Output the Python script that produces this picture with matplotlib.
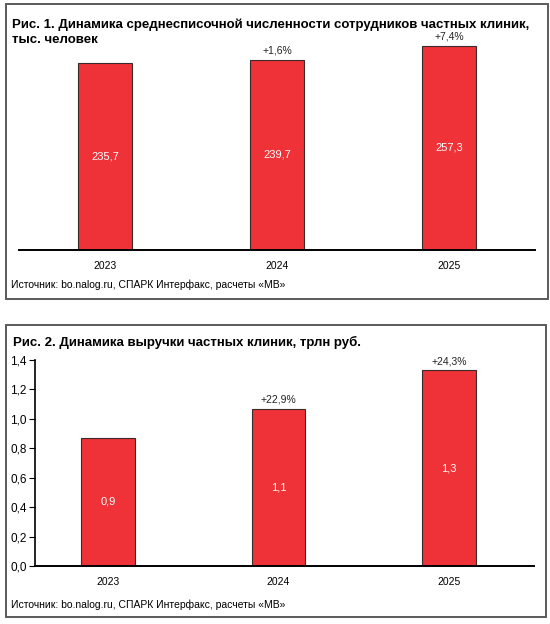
import matplotlib.pyplot as plt
from matplotlib.patches import Rectangle

plt.rcParams['font.family'] = ['Liberation Sans', 'DejaVu Sans']

# data
years = ['2023', '2024', '2025']
staff = [235.7, 239.7, 257.3]
staff_labels = ['235,7', '239,7', '257,3']
staff_growth = ['', '+1,6%', '+7,4%']

revenue = [0.87, 1.07, 1.33]
revenue_labels = ['0,9', '1,1', '1,3']
revenue_growth = ['', '+22,9%', '+24,3%']
revenue_ticks = [0.0, 0.2, 0.4, 0.6, 0.8, 1.0, 1.2, 1.4]

title1 = ['Рис. 1. Динамика среднесписочной численности сотрудников частных клиник,',
          'тыс. человек']
title2 = 'Рис. 2. Динамика выручки частных клиник, трлн руб.'
source = 'Источник: bo.nalog.ru, СПАРК Интерфакс, расчеты «МВ»'

red = '#ee3237'
W, H = 550, 624

fig = plt.figure(figsize=(W / 100, H / 100), dpi=100)


def fx(px):
    return px / W


def fy(py):
    return 1 - py / H


# frames around the two panels
for x0, y0, x1, y1 in [(6, 4, 548, 299), (6, 325, 546, 617)]:
    fig.patches.append(Rectangle((fx(x0), fy(y1)), fx(x1 - x0), (y1 - y0) / H,
                                 transform=fig.transFigure, fill=False,
                                 edgecolor='#5a5a5a', linewidth=1.4))


def draw_bars(ax, values, labels, growth, width):
    x = range(len(values))
    bars = ax.bar(x, values, width=width, color=red, edgecolor='#3a2a2a', linewidth=0.8, zorder=2)
    for b, v, lab, g in zip(bars, values, labels, growth):
        cx = b.get_x() + b.get_width() / 2
        ax.text(cx, v / 2, lab, ha='center', va='center', color='white', fontsize=8)
        if g:
            ax.annotate(g, (cx, v), xytext=(0, 3), textcoords='offset points',
                        ha='center', va='bottom', fontsize=7.5, color='#222222')
    ax.set_xticks(list(x))
    ax.set_xticklabels(years, fontsize=7.5)
    ax.tick_params(axis='x', length=0, pad=8)
    for s in ['top', 'right']:
        ax.spines[s].set_visible(False)
    ax.spines['bottom'].set_linewidth(1.4)


# panel 1
ax1 = fig.add_axes([fx(19), fy(250), fx(535 - 19), (250 - 30) / H])
draw_bars(ax1, staff, staff_labels, staff_growth, 0.31)
ax1.set_xlim(-0.5, 2.5)
ax1.set_ylim(0, 277)
ax1.spines['left'].set_visible(False)
ax1.set_yticks([])

fig.text(fx(12), fy(25), title1[0], fontsize=9.5, fontweight='bold', va='center')
fig.text(fx(12), fy(40), title1[1], fontsize=9.5, fontweight='bold', va='center')
fig.text(fx(11), fy(285), source, fontsize=7.5, va='center')

# panel 2
ax2 = fig.add_axes([fx(35), fy(566), fx(534 - 35), (566 - 360) / H])
draw_bars(ax2, revenue, revenue_labels, revenue_growth, 0.315)
ax2.set_xlim(-0.43, 2.5)
ax2.set_ylim(0, 1.4)
ax2.set_yticks(revenue_ticks)
ax2.set_yticklabels([f'{t:.1f}'.replace('.', ',') for t in revenue_ticks], fontsize=8.5)
ax2.tick_params(axis='y', length=4, width=0.8, pad=2)
ax2.spines['left'].set_linewidth(1.2)

fig.text(fx(13), fy(342), title2, fontsize=9.5, fontweight='bold', va='center')
fig.text(fx(11), fy(605), source, fontsize=7.5, va='center')

fig.savefig('out.png', dpi=100)
